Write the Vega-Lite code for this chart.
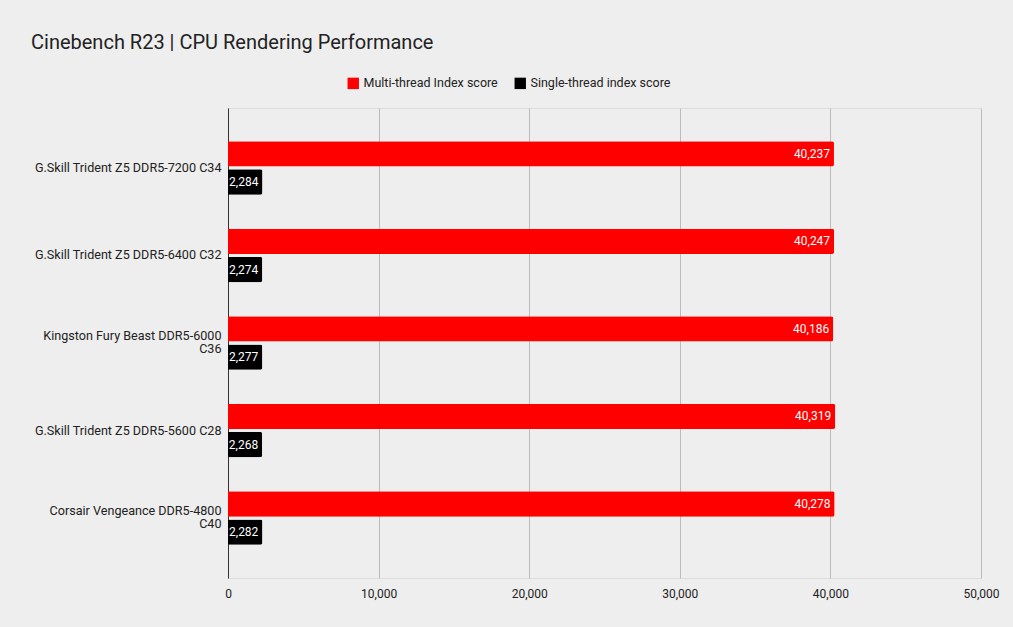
{
  "$schema": "https://vega.github.io/schema/vega-lite/v6.json",
  "width": 753,
  "height": 470,
  "autosize": {"type": "none"},
  "padding": {"left": 228, "top": 108, "right": 32, "bottom": 49},
  "background": "#eeeeee",
  "title": {
    "text": "Cinebench R23 | CPU Rendering Performance",
    "anchor": "start",
    "frame": "group",
    "dx": -197,
    "offset": 24,
    "font": "Roboto",
    "fontSize": 20,
    "fontWeight": "normal",
    "color": "#222222"
  },
  "data": {
    "values": [
      {"memory": "G.Skill Trident Z5 DDR5-7200 C34", "series": "Multi-thread Index score", "score": 40237},
      {"memory": "G.Skill Trident Z5 DDR5-7200 C34", "series": "Single-thread index score", "score": 2284},
      {"memory": "G.Skill Trident Z5 DDR5-6400 C32", "series": "Multi-thread Index score", "score": 40247},
      {"memory": "G.Skill Trident Z5 DDR5-6400 C32", "series": "Single-thread index score", "score": 2274},
      {"memory": "Kingston Fury Beast DDR5-6000 C36", "series": "Multi-thread Index score", "score": 40186},
      {"memory": "Kingston Fury Beast DDR5-6000 C36", "series": "Single-thread index score", "score": 2277},
      {"memory": "G.Skill Trident Z5 DDR5-5600 C28", "series": "Multi-thread Index score", "score": 40319},
      {"memory": "G.Skill Trident Z5 DDR5-5600 C28", "series": "Single-thread index score", "score": 2268},
      {"memory": "Corsair Vengeance DDR5-4800 C40", "series": "Multi-thread Index score", "score": 40278},
      {"memory": "Corsair Vengeance DDR5-4800 C40", "series": "Single-thread index score", "score": 2282}
    ]
  },
  "encoding": {
    "y": {
      "field": "memory",
      "type": "nominal",
      "sort": null,
      "title": null,
      "scale": {"paddingInner": 0.39, "paddingOuter": 0.38},
      "axis": {
        "ticks": false,
        "domain": true,
        "domainColor": "#333333",
        "domainWidth": 1,
        "labelPadding": 7,
        "labelFont": "Roboto",
        "labelFontSize": 12.6,
        "labelColor": "#222222",
        "labelLimit": 220,
        "labelLineHeight": 13,
        "labelBaseline": {
          "condition": {"test": "indexof(datum.value, 'Kingston') == 0 || indexof(datum.value, 'Corsair') == 0", "value": "line-bottom"},
          "value": "middle"
        },
        "labelExpr": "indexof(datum.label, 'Kingston') == 0 || indexof(datum.label, 'Corsair') == 0 ? [slice(datum.label, 0, lastindexof(datum.label, ' ')), slice(datum.label, lastindexof(datum.label, ' ') + 1)] : datum.label"
      }
    },
    "yOffset": {
      "field": "series",
      "type": "nominal",
      "scale": {"paddingInner": 0.1, "paddingOuter": 0}
    },
    "x": {
      "field": "score",
      "type": "quantitative",
      "title": null,
      "scale": {"domain": [0, 50000], "nice": false},
      "axis": {
        "values": [0, 10000, 20000, 30000, 40000, 50000],
        "format": ",d",
        "ticks": false,
        "domain": false,
        "grid": true,
        "gridColor": "#bbbbbb",
        "labelFlush": false,
        "labelPadding": 10,
        "labelFont": "Roboto",
        "labelFontSize": 12,
        "labelColor": "#222222"
      }
    }
  },
  "layer": [
    {
      "mark": {"type": "bar", "cornerRadiusEnd": 2},
      "encoding": {
        "color": {
          "field": "series",
          "type": "nominal",
          "scale": {"domain": ["Multi-thread Index score", "Single-thread index score"], "range": ["#ff0000", "#000000"]},
          "legend": {
            "title": null,
            "orient": "none",
            "direction": "horizontal",
            "legendX": 119,
            "legendY": -31,
            "symbolType": "square",
            "symbolSize": 130,
            "symbolStrokeWidth": 0,
            "symbolOpacity": 1,
            "labelFont": "Roboto",
            "labelFontSize": 12.5,
            "labelColor": "#222222",
            "columnPadding": 16
          }
        }
      }
    },
    {
      "mark": {"type": "text", "align": "right", "baseline": "middle", "dx": -4, "font": "Roboto", "fontSize": 12, "color": "#ffffff"},
      "encoding": {
        "text": {"field": "score", "type": "quantitative", "format": ","}
      }
    }
  ]
}
